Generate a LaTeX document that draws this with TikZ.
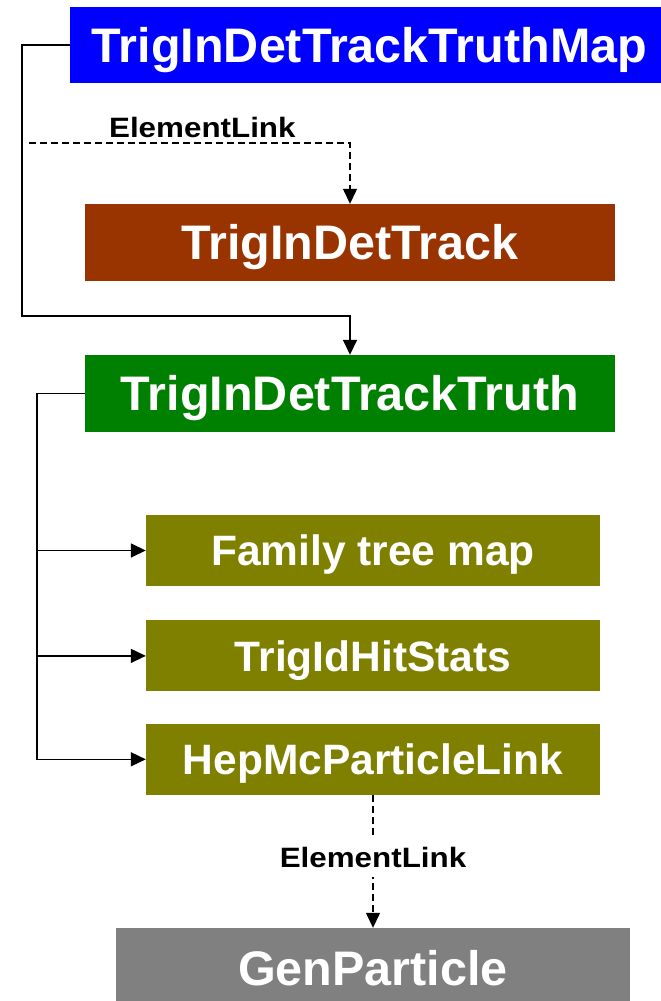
\documentclass[tikz,border=0pt]{standalone}
\usepackage{fontspec}
\setmainfont{Liberation Sans}
\newfontfamily\linkfont[FakeStretch=1.12]{Liberation Sans}
\usetikzlibrary{arrows.meta, positioning}
\definecolor{mapblue}{HTML}{0000FF}
\definecolor{trackbrown}{HTML}{993300}
\definecolor{truthgreen}{HTML}{008000}
\definecolor{trutholive}{HTML}{808000}
\definecolor{gengray}{HTML}{808080}
\tikzset{
  % Class boxes
  classbox/.style={
    rectangle, fill=#1, draw=none, text=white, inner sep=0pt,
    font=\fontsize{48.5}{50}\selectfont\bfseries, align=center,
    text height=34.7pt, text depth=0pt,
    minimum width=530pt, minimum height=77pt,
  },
  classbox/.default={mapblue},
  % Member boxes
  memberbox/.style={
    classbox=trutholive, minimum width=454pt, minimum height=71pt,
    font=\fontsize{42.5}{45}\selectfont\bfseries, text height=30.4pt,
  },
  % Connectors
  haslink/.style={-{Triangle[length=15pt,width=14pt]}, line width=1.6pt, black},
  reflink/.style={haslink, line width=1.3pt, dash pattern=on 7pt off 4pt},
  % Labels on connectors
  linklabel/.style={font=\linkfont\fontsize{28}{30}\selectfont\bfseries, text=black, inner sep=0pt},
}
\begin{document}
\begin{tikzpicture}[x=1pt, y=-1pt]
  \useasboundingbox (0,0) rectangle (661,1001);

  % Map and the classes it points to
  \node[classbox=mapblue, minimum width=599pt, minimum height=76pt] (map) at (369.5,45) {TrigInDetTrackTruthMap};
  \node[classbox=trackbrown] (track) at (350,242.5) {TrigInDetTrack};
  \node[classbox=truthgreen] (truth) at (350,393.5) {TrigInDetTrackTruth};

  % Members of the truth object
  \node[memberbox] (family) at (373,550.5) {Family tree map};
  \node[memberbox, below=34pt of family] (hitstats) {TrigIdHitStats};
  \node[memberbox, below=32pt of hitstats] (hepmc) {HepMcParticleLink};

  % Generator particle
  \node[classbox=gengray, minimum width=514pt, minimum height=80pt] (gen) at (373,968) {GenParticle};

  % Map connectors
  \coordinate (mapbend) at (22,316);
  \coordinate (elstart) at (29,143);
  \draw[haslink] (map.west) -| (mapbend) -| (truth.north);
  \draw[reflink] (elstart) -| (track.north)
    node[linklabel, pos=0.27, above=5pt] {ElementLink};

  % Truth members
  \coordinate (bus) at (37,0);
  \draw[haslink] (truth.west) -| (bus |- hepmc.west) -- (hepmc.west);
  \foreach \m in {family, hitstats}
    \draw[haslink] (bus |- \m.west) -- (\m.west);

  % Link to the generator particle
  \draw[reflink] (hepmc.south) -- (gen.north)
    node[linklabel, pos=0.47, fill=white, inner xsep=2pt, inner ysep=9pt] {ElementLink};

\end{tikzpicture}
\end{document}
